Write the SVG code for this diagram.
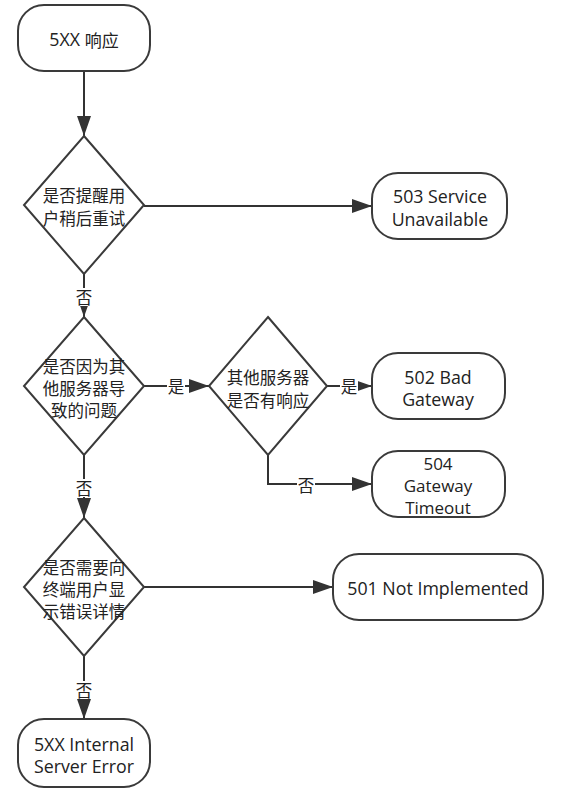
<svg xmlns="http://www.w3.org/2000/svg" width="564" height="800" viewBox="0 0 564 800">
<style>
.shape{fill:#fff;stroke:#3a3a3a;stroke-width:2}
.edge{fill:none;stroke:#333;stroke-width:2}
.t{font-family:"Segoe UI","Open Sans","Noto Sans","Noto Sans CJK SC",sans-serif;font-size:17.8px;fill:#222;text-anchor:middle;dominant-baseline:central}
.s{font-size:17px}
.c{font-family:"Noto Sans CJK SC","Microsoft YaHei",sans-serif;font-size:16.5px;fill:#222;text-anchor:middle;dominant-baseline:central}
.lb{fill:#fff;stroke:none}
</style>
<defs>
<marker id="arr" markerUnits="userSpaceOnUse" markerWidth="20" markerHeight="14" refX="20" refY="7" orient="auto">
<path d="M0,0 L20,7 L0,14 z" fill="#333"/>
</marker>
</defs>
<rect width="564" height="800" fill="#fff"/>
<g id="connectors">
<path class="edge" d="M84,71 L84,136" marker-end="url(#arr)"/>
<path class="edge" d="M144,206 L372,206" marker-end="url(#arr)"/>
<path class="edge" d="M84,274 L84,317" marker-end="url(#arr)"/>
<rect class="lb" x="75" y="288" width="18" height="18"/>
<text class="c" x="84" y="297">否</text>
<path class="edge" d="M144,386 L209,386" marker-end="url(#arr)"/>
<rect class="lb" x="167" y="377" width="18" height="18"/>
<text class="c" x="176" y="386">是</text>
<path class="edge" d="M327,386 L372,386" marker-end="url(#arr)"/>
<rect class="lb" x="340" y="377" width="18" height="18"/>
<text class="c" x="349" y="386">是</text>
<path class="edge" d="M268,455 L268,484 L372,484" marker-end="url(#arr)"/>
<rect class="lb" x="297" y="476" width="18" height="18"/>
<text class="c" x="306" y="485">否</text>
<path class="edge" d="M84,455 L84,518" marker-end="url(#arr)"/>
<rect class="lb" x="75" y="479" width="18" height="18"/>
<text class="c" x="84" y="488">否</text>
<path class="edge" d="M144,587 L333,587" marker-end="url(#arr)"/>
<path class="edge" d="M84,656 L84,719" marker-end="url(#arr)"/>
<rect class="lb" x="75" y="681" width="18" height="18"/>
<text class="c" x="84" y="690">否</text>
</g>
<g id="start">
<rect class="shape" x="18" y="5" width="132" height="66" rx="26"/>
<text class="t" x="84" y="39">5XX <tspan style="font-family:'Noto Sans CJK SC',sans-serif;font-size:17px">响应</tspan></text>
</g>
<g id="d1">
<polygon class="shape" points="84,136 144,205 84,274 24,205"/>
<text class="c" x="84" y="195">是否提醒用</text>
<text class="c" x="84" y="218">户稍后重试</text>
</g>
<g id="n503">
<rect class="shape" x="372" y="173" width="135" height="66" rx="26"/>
<text class="t" x="440" y="196">503 Service</text>
<text class="t" x="440" y="219">Unavailable</text>
</g>
<g id="d2">
<polygon class="shape" points="84,317 144,386 84,455 24,386"/>
<text class="c" x="84" y="366">是否因为其</text>
<text class="c" x="84" y="388">他服务器导</text>
<text class="c" x="84" y="410">致的问题</text>
</g>
<g id="d3">
<polygon class="shape" points="268,317 327,386 268,455 209,386"/>
<text class="c" x="268" y="377">其他服务器</text>
<text class="c" x="268" y="400">是否有响应</text>
</g>
<g id="n502">
<rect class="shape" x="372" y="353" width="133" height="66" rx="26"/>
<text class="t" x="438" y="377">502 Bad</text>
<text class="t" x="438" y="399">Gateway</text>
</g>
<g id="n504">
<rect class="shape" x="372" y="451" width="133" height="66" rx="26"/>
<text class="t s" x="438" y="463">504</text>
<text class="t s" x="438" y="485">Gateway</text>
<text class="t s" x="438" y="507">Timeout</text>
</g>
<g id="d4">
<polygon class="shape" points="84,518 144,587 84,656 24,587"/>
<text class="c" x="84" y="567">是否需要向</text>
<text class="c" x="84" y="589">终端用户显</text>
<text class="c" x="84" y="611">示错误详情</text>
</g>
<g id="n501">
<rect class="shape" x="333" y="554" width="210" height="66" rx="26"/>
<text class="t" x="438" y="588">501 Not Implemented</text>
</g>
<g id="end">
<rect class="shape" x="18" y="719" width="132" height="68" rx="26"/>
<text class="t" x="84" y="744">5XX Internal</text>
<text class="t" x="84" y="766">Server Error</text>
</g>
</svg>
